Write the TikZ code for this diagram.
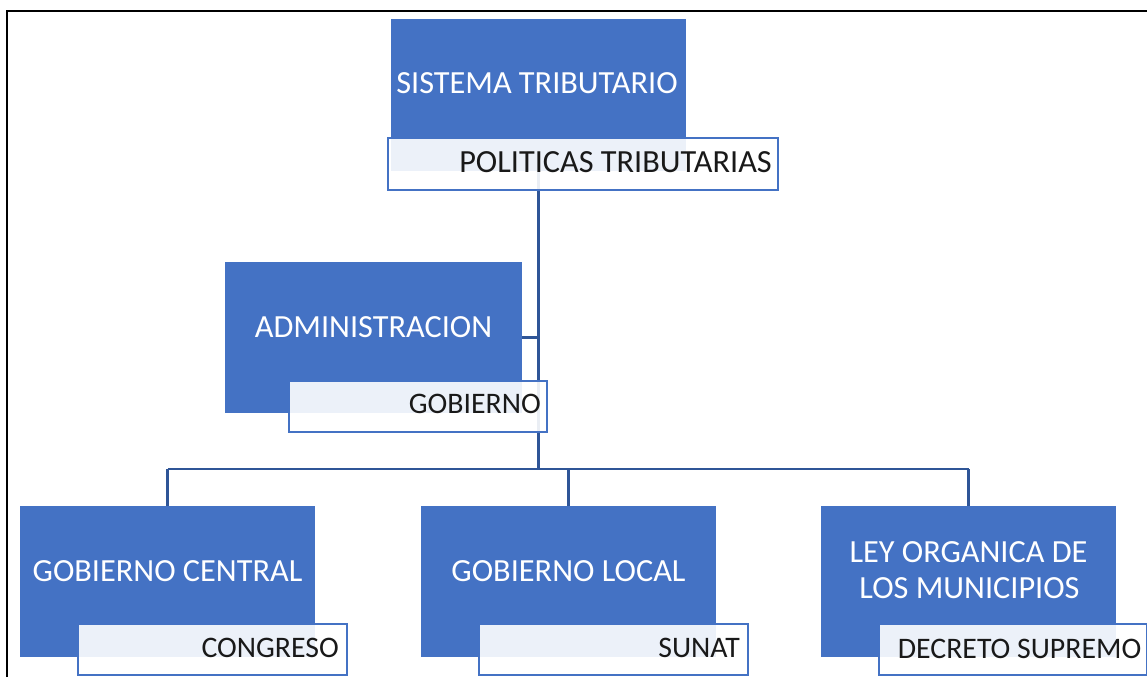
\documentclass[tikz,border=0pt]{standalone}
\usepackage{fontspec}
\setmainfont{Carlito}
\definecolor{boxblue}{HTML}{4472C4}
\definecolor{linkblue}{HTML}{2F5597}
\begin{document}
\begin{tikzpicture}[x=1pt,y=-1pt,
  bluebox/.style={fill=boxblue, draw=none, inner sep=0pt, outer sep=0pt, anchor=north west},
  subbox/.style={fill=white, fill opacity=0.9, draw=boxblue, line width=2pt, inner sep=0pt, outer sep=0pt, anchor=north west},
  wtext/.style={text=white, inner sep=0pt, anchor=base, font=\fontsize{32.3}{36}\selectfont},
  btext/.style={text=black!90, inner sep=0pt, anchor=base east, font=\fontsize{32.3}{36}\selectfont},
  bsmall/.style={btext, font=\fontsize{29.8}{34}\selectfont},
  link/.style={draw=linkblue, line width=2.4pt}]
\useasboundingbox (0,0) rectangle (1147,677);
% frame
\draw[line width=2pt] (7,677) -- (7,11) -- (1147,11);
% blue boxes (geometry only)
\node[bluebox, minimum width=295pt, minimum height=152pt] (sisB) at (391,19) {};
\node[bluebox, minimum width=297pt, minimum height=151pt] (admB) at (225,262) {};
\node[bluebox, minimum width=295pt, minimum height=151pt] (gcB) at (20,506) {};
\node[bluebox, minimum width=295pt, minimum height=151pt] (glB) at (421,506) {};
\node[bluebox, minimum width=295pt, minimum height=151pt] (loB) at (821,506) {};
% connectors
\coordinate (bus) at (sisB.south |- 0,469);
\draw[link] (sisB.south) -- (bus);
\draw[link] (admB.east) -- (admB.east -| sisB.south);
\draw[link] (gcB.north |- bus) -- (loB.north |- bus);
\draw[link] (gcB.north |- bus) -- (gcB.north);
\draw[link] (glB.north |- bus) -- (glB.north);
\draw[link] (loB.north |- bus) -- (loB.north);
% sub boxes
\node[subbox, minimum width=390pt, minimum height=52pt] (polW) at (388,137.5) {};
\node[subbox, minimum width=258pt, minimum height=51pt] (gobW) at (289,381) {};
\node[subbox, minimum width=269pt, minimum height=51pt] (conW) at (78,624) {};
\node[subbox, minimum width=269pt, minimum height=51pt] (sunW) at (479,624) {};
\node[subbox, minimum width=268pt, minimum height=51pt] (decW) at (879,624) {};
% texts
\node[wtext] (sisT) at (537,93) {SISTEMA TRIBUTARIO};
\node[wtext] (admT) at (373.5,337) {ADMINISTRACION};
\node[wtext] (gcT) at (167.5,581) {GOBIERNO CENTRAL};
\node[wtext] (glT) at (568.5,581) {GOBIERNO LOCAL};
\node[wtext] (lo1T) at (968.5,562.5) {LEY ORGANICA DE};
\node[wtext] (lo2T) at (969.5,598) {LOS MUNICIPIOS};
\node[btext] (polT) at (772,172.5) {POLITICAS TRIBUTARIAS};
\node[bsmall] (gobT) at (541,413) {GOBIERNO};
\node[bsmall] (conT) at (339,657.5) {CONGRESO};
\node[bsmall] (sunT) at (740,657.5) {SUNAT};
\node[bsmall] (decT) at (1141.5,658) {DECRETO SUPREMO};
\end{tikzpicture}
\end{document}
